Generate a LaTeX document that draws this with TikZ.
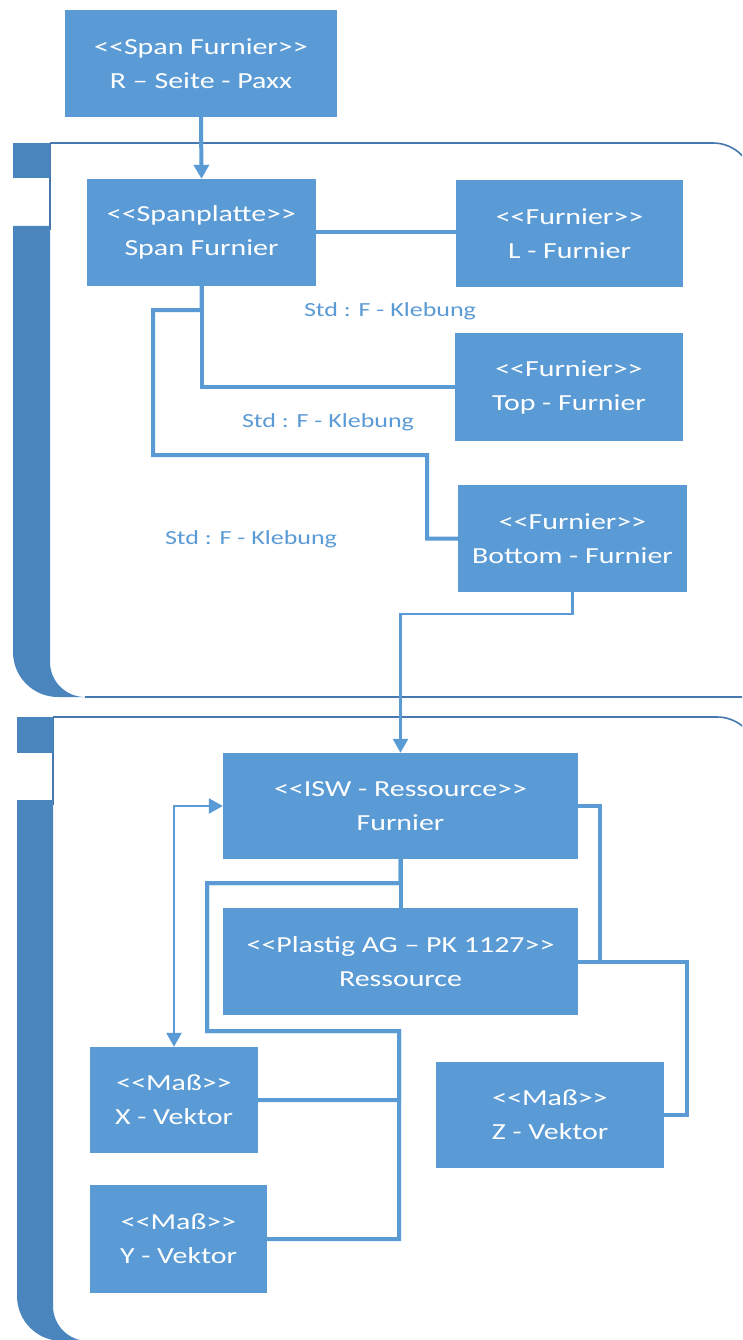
\documentclass[tikz,border=0pt]{standalone}
\usepackage{fontspec}
\setmainfont{Carlito}[FakeStretch=1.3, Ligatures=TeXOff]
\usetikzlibrary{arrows.meta}
\definecolor{boxblue}{HTML}{5B9BD5}
\definecolor{bardark}{HTML}{4A85BE}
\definecolor{frameln}{HTML}{4677AE}
\definecolor{lblblue}{HTML}{5B9BD5}
\tikzset{
  box/.style={fill=boxblue, draw=none, text=white, align=center, inner sep=0pt,
    font=\fontsize{23}{34}\selectfont},
  thickconn/.style={draw=boxblue, line width=4pt},
  thinconn/.style={draw=boxblue, line width=2.5pt},
  tip/.style={-{Triangle[width=15pt,length=14pt]}},
  lbl/.style={text=lblblue, font=\fontsize{20}{24}\selectfont, inner sep=0pt},
  frameline/.style={draw=frameln, line width=1.6pt},
}
\begin{document}
\begin{tikzpicture}[x=1pt,y=-1pt]
\useasboundingbox (0,0) rectangle (742,1340);
\clip (0,0) rectangle (742,1340);
\fill[white] (0,0) rectangle (742,1340);

% ---------- frame 1 ----------
\draw[frameline] (50,143) -- (713,143) arc[start angle=270,end angle=360,radius=40] -- (753,697) -- (85,697);
\draw[frameline] (50,143) -- (50,230);
\fill[bardark] (13,143) rectangle (50,178);
\fill[bardark] (13,226) -- (50,226) -- (50,662) arc[start angle=180,end angle=90,radius=35]
  -- (58,697) arc[start angle=90,end angle=180,radius=45] -- cycle;

% ---------- frame 2 ----------
\draw[frameline] (53,717) -- (717,717) arc[start angle=270,end angle=360,radius=40] -- (757,1341) -- (88,1341);
\draw[frameline] (53,717) -- (53,805);
\fill[bardark] (17,717) rectangle (53,753);
\fill[bardark] (17,800) -- (53,800) -- (53,1306) arc[start angle=180,end angle=90,radius=35]
  -- (62,1341) arc[start angle=90,end angle=180,radius=45] -- cycle;

% ---------- boxes ----------
\node[box, minimum width=272pt, minimum height=107pt] (A) at (201,63.5) {<<Span Furnier>>\\R – Seite - Paxx};
\node[box, minimum width=229pt, minimum height=107pt] (B) at (201.5,232.5) {<<Spanplatte>>\\Span Furnier};
\node[box, minimum width=227pt, minimum height=107pt] (C) at (569.5,233.5) {<<Furnier>>\\L - Furnier};
\node[box, minimum width=228pt, minimum height=108pt] (D) at (569,387) {<<Furnier>>\\Top - Furnier};
\node[box, minimum width=229pt, minimum height=107pt] (E) at (572.5,538.5) {<<Furnier>>\\Bottom - Furnier};
\node[box, minimum width=355pt, minimum height=106pt] (F) at (400.5,806) {<<ISW - Ressource>>\\Furnier};
\node[box, minimum width=355pt, minimum height=107pt] (G) at (400.5,961.5) {<<Plastig AG – PK 1127>>\\Ressource};
\node[box, minimum width=168pt, minimum height=106pt] (H) at (174,1100) {<<Maß>>\\X - Vektor};
\node[box, minimum width=177pt, minimum height=108pt] (I) at (178.5,1239) {<<Maß>>\\Y - Vektor};
\node[box, minimum width=228pt, minimum height=106pt] (J) at (550,1115) {<<Maß>>\\Z - Vektor};

% ---------- labels ----------
\node[lbl] (L1) at (390,311) {Std : F - Klebung};
\node[lbl] (L2) at (328,422) {Std : F - Klebung};
\node[lbl] (L3) at (251,539) {Std : F - Klebung};

% ---------- connectors, top frame ----------
\draw[thickconn, tip] (A.south) -- (B.north);
\draw[thickconn] (B.east) -- (B.east -| C.west);
\draw[thickconn] (B.south) |- (D.west);
\draw[thickconn] (B.south) -- ++(0,24) -- (153,310) -- (153,455) -- (427,455) |- (E.west);

% ---------- E to F ----------
\draw[thinconn, tip] (E.south) -- ++(0,22) -| (F.north);

% ---------- connectors, bottom frame ----------
\draw[thinconn, {Triangle[width=15pt,length=14pt]}-{Triangle[width=15pt,length=14pt]}] (F.west) -| (H.north);
\draw[thickconn] (F.south) -- (G.north);
\draw[thickconn] (F.south) -- ++(0,24) -- (207,883) -- (207,1031) -- (399,1031) |- (H.east);
\draw[thickconn] (F.south) -- ++(0,24) -- (207,883) -- (207,1031) -- (399,1031) |- (I.east);
\draw[thickconn] (F.east) -- (600,806) -- (600,961.5) -- (687,961.5) |- (J.east);
\draw[thickconn] (G.east) -- (687,961.5) |- (J.east);
\end{tikzpicture}
\end{document}
